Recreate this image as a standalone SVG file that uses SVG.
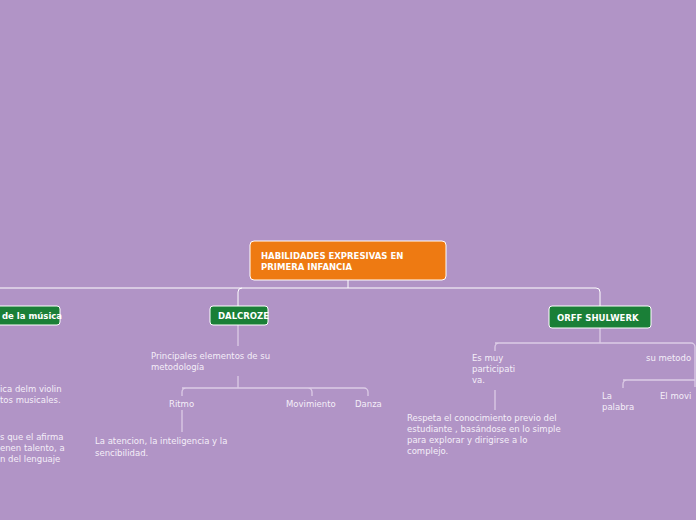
<svg xmlns="http://www.w3.org/2000/svg" width="696" height="520" viewBox="0 0 696 520">
<style>
text{font-family:"DejaVu Sans",Verdana,sans-serif;fill:#f4eef8;font-size:8.5px}
.b{font-weight:bold;fill:#fff}
.c{fill:none;stroke:#fff;stroke-width:1}
.s{fill:none;stroke:#dccbe6;stroke-width:1.3}
.g{fill:#1a7f37;stroke:#fff;stroke-width:1}
</style>
<rect width="696" height="520" fill="#b194c6"/>
<g id="connectors">
<path class="c" d="M348 280V288M0 288H596a4 4 0 0 1 4 4V306M242 288a4 4 0 0 0-4 4V306"/>
<path class="s" d="M238 325V346M238 376V388M186 388a4 4 0 0 0-4 4V396M182 388H364a4 4 0 0 1 4 4V396M308 388a4 4 0 0 1 4 4V396M182 410V432"/>
<path class="s" d="M600 328V343M499 343a4 4 0 0 0-4 4V351M495 343H691a4 4 0 0 1 4 4V387M495 390V410M627 380a4 4 0 0 0-4 4V388M623 380H695"/>
</g>
<g id="root"><rect x="250" y="241" width="196" height="39" rx="4" fill="#ee7a12" stroke="#fff"/>
<text class="b" x="261" y="259">HABILIDADES  EXPRESIVAS EN</text><text class="b" x="261" y="270">PRIMERA INFANCIA</text></g>
<g id="musica"><rect class="g" x="-10" y="306" width="70" height="19" rx="3"/><text class="b" x="2" y="319" font-size="7">de la música</text></g>
<g id="dalcroze"><rect class="g" x="210" y="306" width="58" height="19" rx="3"/><text class="b" x="218" y="319" font-size="7">DALCROZE</text></g>
<g id="orff"><rect class="g" x="549" y="306" width="102" height="22" rx="3"/><text class="b" x="557" y="321">ORFF SHULWERK</text></g>
<g id="left"><text x="0" y="392">ica delm violin</text><text x="0" y="403">tos musicales.</text>
<text x="0" y="440">s que el afirma</text><text x="0" y="451">enen talento, a</text><text x="0" y="462">n del lenguaje</text></g>
<g id="principales"><text x="151" y="359">Principales elementos de su</text><text x="151" y="370">metodología</text></g>
<g id="ritmo"><text x="169" y="407">Ritmo</text></g>
<g id="movimiento"><text x="286" y="407">Movimiento</text></g>
<g id="danza"><text x="355" y="407">Danza</text></g>
<g id="atencion"><text x="95" y="444">La atencion, la inteligencia y la</text><text x="95" y="456">sencibilidad.</text></g>
<g id="esmuy"><text x="472" y="361">Es muy</text><text x="472" y="372">participati</text><text x="472" y="383">va.</text></g>
<g id="respeta"><text x="407" y="421">Respeta el conocimiento previo del</text><text x="407" y="432">estudiante , basándose en lo simple</text><text x="407" y="443">para explorar y dirigirse a lo</text><text x="407" y="454">complejo.</text></g>
<g id="sumetodo"><text x="646" y="361">su metodo</text></g>
<g id="palabra"><text x="602" y="399">La</text><text x="602" y="410">palabra</text></g>
<g id="elmovi"><text x="660" y="399">El  movi</text></g>
</svg>
